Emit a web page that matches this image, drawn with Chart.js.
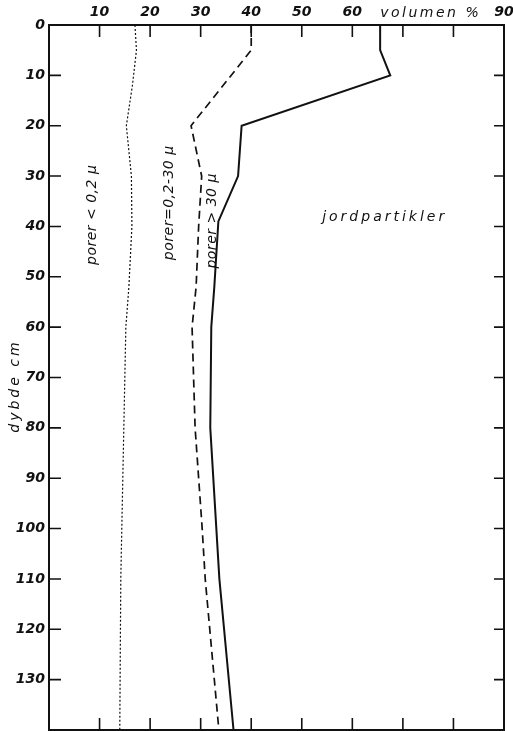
<!DOCTYPE html>
<html>
<head>
<meta charset="utf-8">
<script src="https://cdn.jsdelivr.net/npm/chart.js@4.4.1/dist/chart.umd.min.js"></script>
<style>
  html, body { margin: 0; padding: 0; background: #fff; }
  #wrap { width: 513px; height: 731px; }
</style>
</head>
<body>
<div id="wrap"><canvas id="chart"></canvas></div>
<script>
// depth (cm) and volume % for each curve
const fineDepth = [0, 5, 12, 20, 30, 40, 52, 60, 110, 140];
const fineVol = [17.0, 17.3, 16.5, 15.3, 16.3, 16.4, 15.8, 15.2, 14.2, 14.0];

const midDepth = [0, 5, 20, 30, 40, 52, 60, 80, 100, 110, 140];
const midVol = [40, 40, 28.1, 30.2, 29.6, 29.1, 28.3, 28.9, 30.3, 30.9, 33.6];

const coarseDepth = [0, 5, 10, 20, 30, 39, 52, 60, 80, 110, 140];
const coarseVol = [65.5, 65.5, 67.5, 38.1, 37.4, 33.5, 32.7, 32.1, 31.9, 33.7, 36.5];

const xTickLabels = ['', '10', '20', '30', '40', '50', '60', '', '', '90'];
const yTickLabels = ['0', '10', '20', '30', '40', '50', '60', '70', '80', '90', '100', '110', '120', '130', ''];

const ink = '#111';
const fontFamily = '"DejaVu Sans", sans-serif';

const toPoints = (depths, vols) => depths.map((d, i) => ({ x: vols[i], y: d }));

// annotation texts placed in data units
const notes = [
    { text: 'porer < 0,2 μ', x: 8.5, y: 37.7, rot: true },
    { text: 'porer=0,2-30 μ', x: 23.9, y: 35.3, rot: true },
    { text: 'porer > 30 μ', x: 32.4, y: 38.9, rot: true },
    { text: 'jordpartikler', x: 66.4, y: 38.1, rot: false, spacing: 3 },
];

const decorPlugin = {
    id: 'decor',
    afterDraw(chart) {
        const { ctx, chartArea: a, scales } = chart;
        const xs = scales.x, ys = scales.y;
        ctx.save();
        ctx.strokeStyle = ink;
        ctx.lineWidth = 1.6;
        // inward ticks on all four sides
        for (let v = 10; v < 90; v += 10) {
            const px = xs.getPixelForValue(v);
            ctx.beginPath();
            ctx.moveTo(px, a.top); ctx.lineTo(px, a.top + 12);
            ctx.moveTo(px, a.bottom); ctx.lineTo(px, a.bottom - 12);
            ctx.stroke();
        }
        for (let v = 10; v < 140; v += 10) {
            const py = ys.getPixelForValue(v);
            ctx.beginPath();
            ctx.moveTo(a.left, py); ctx.lineTo(a.left + 12, py);
            ctx.moveTo(a.right, py); ctx.lineTo(a.right - 10, py);
            ctx.stroke();
        }
        ctx.fillStyle = ink;
        ctx.font = 'italic 14px ' + fontFamily;
        ctx.textAlign = 'center';
        ctx.textBaseline = 'middle';
        notes.forEach(n => {
            const px = xs.getPixelForValue(n.x);
            const py = ys.getPixelForValue(n.y);
            ctx.save();
            ctx.letterSpacing = (n.spacing || 0.5) + 'px';
            ctx.translate(px, py);
            if (n.rot) ctx.rotate(-Math.PI / 2);
            ctx.fillText(n.text, 0, 0);
            ctx.restore();
        });
        // axis titles
        ctx.save();
        ctx.letterSpacing = '2.5px';
        ctx.fillText('volumen %', xs.getPixelForValue(75.5), a.top - 12);
        ctx.letterSpacing = '3px';
        ctx.translate(a.left - 34, ys.getPixelForValue(71.7));
        ctx.rotate(-Math.PI / 2);
        ctx.fillText('dybde cm', 0, 0);
        ctx.restore();
        ctx.restore();
    }
};

const tickFont = { family: fontFamily, size: 14, style: 'italic', weight: 'bold' };

const noPad = (s) => {
    s.paddingTop = 0;
    s.paddingBottom = 0;
    s.paddingLeft = 0;
    s.paddingRight = 0;
};

new Chart(document.getElementById('chart'), {
    type: 'scatter',
    data: {
        datasets: [
            {
                label: 'porer < 0,2 μ',
                data: toPoints(fineDepth, fineVol),
                showLine: true,
                borderColor: ink,
                borderWidth: 1.2,
                borderDash: [2, 2],
                pointRadius: 0,
            },
            {
                label: 'porer 0,2-30 μ',
                data: toPoints(midDepth, midVol),
                showLine: true,
                borderColor: ink,
                borderWidth: 1.7,
                borderDash: [8, 5],
                pointRadius: 0,
            },
            {
                label: 'porer > 30 μ',
                data: toPoints(coarseDepth, coarseVol),
                showLine: true,
                borderColor: ink,
                borderWidth: 2,
                pointRadius: 0,
            },
        ],
    },
    options: {
        responsive: true,
        maintainAspectRatio: false,
        animation: false,
        layout: { padding: 0 },
        plugins: {
            legend: { display: false },
            tooltip: { enabled: false },
        },
        scales: {
            x: {
                type: 'linear',
                position: 'top',
                min: 0,
                max: 90,
                grid: { display: false, tickLength: 0 },
                border: { display: true, color: ink, width: 2 },
                ticks: {
                    stepSize: 10,
                    color: ink,
                    font: tickFont,
                    maxRotation: 0,
                    padding: 4,
                    callback: (v) => xTickLabels[Math.round(v / 10)],
                },
                afterFit: (s) => { s.height = 25; noPad(s); },
            },
            x2: {
                type: 'linear',
                position: 'bottom',
                min: 0,
                max: 90,
                grid: { display: false, tickLength: 0 },
                border: { display: true, color: ink, width: 2 },
                ticks: { display: false },
                afterFit: (s) => { s.height = 1; noPad(s); },
            },
            y: {
                type: 'linear',
                position: 'left',
                min: 0,
                max: 140,
                reverse: true,
                grid: { display: false, tickLength: 0 },
                border: { display: true, color: ink, width: 2 },
                ticks: {
                    stepSize: 10,
                    color: ink,
                    font: tickFont,
                    padding: 4,
                    callback: (v) => yTickLabels[Math.round(v / 10)],
                },
                afterFit: (s) => { s.width = 49; noPad(s); },
            },
            y2: {
                type: 'linear',
                position: 'right',
                min: 0,
                max: 140,
                reverse: true,
                grid: { display: false, tickLength: 0 },
                border: { display: true, color: ink, width: 2 },
                ticks: { display: false },
                afterFit: (s) => { s.width = 9; noPad(s); },
            },
        },
    },
    plugins: [decorPlugin],
});
</script>
</body>
</html>
